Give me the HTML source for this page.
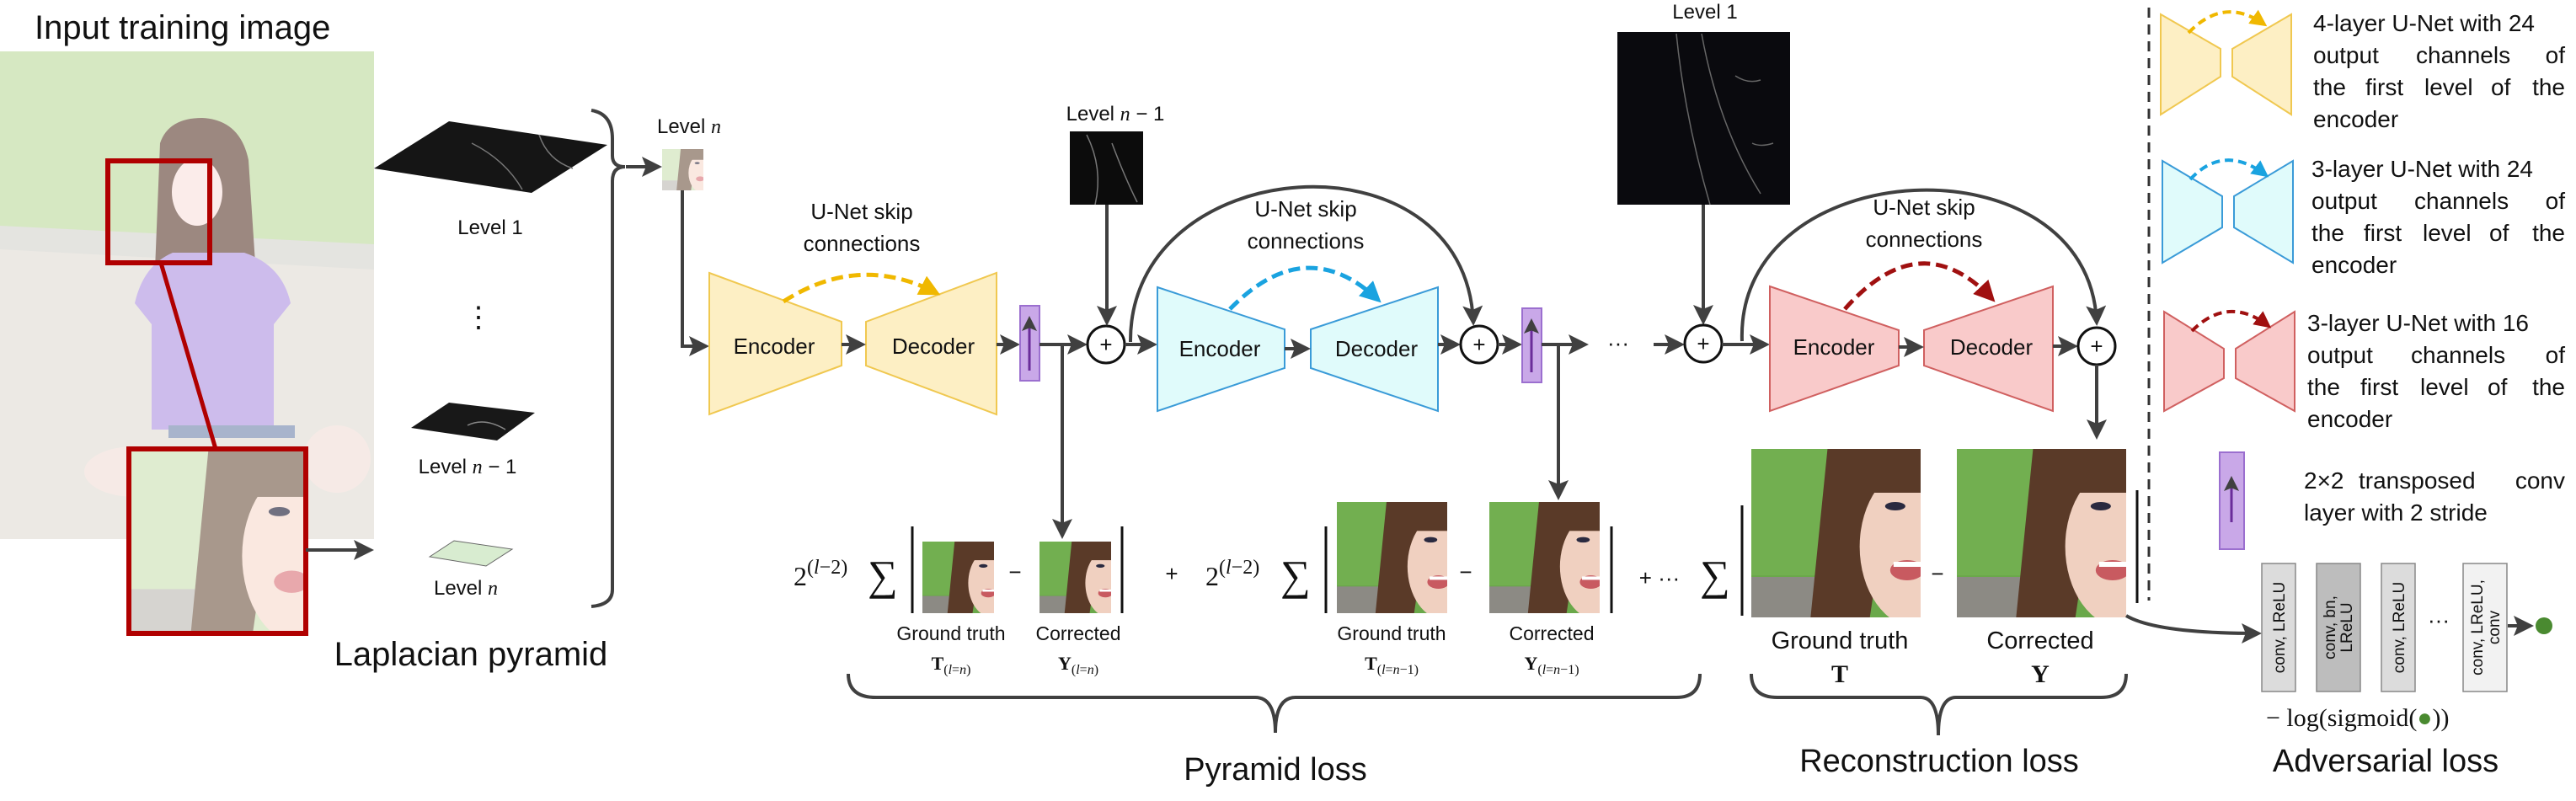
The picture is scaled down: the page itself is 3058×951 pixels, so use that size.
<!DOCTYPE html>
<html><head><meta charset="utf-8"><style>
html,body{margin:0;padding:0;background:#fff;}
svg{display:block;}
text{font-family:"Liberation Sans",sans-serif;fill:#111;}
.s{font-family:"Liberation Serif",serif;}
</style></head><body>
<svg width="3058" height="951" viewBox="0 0 3058 951" xmlns="http://www.w3.org/2000/svg">
<defs>
<marker id="ar" markerWidth="6" markerHeight="6" refX="5" refY="3" orient="auto" markerUnits="strokeWidth"><path d="M0,0 L6,3 L0,6 L1.2,3 z" fill="#404040"/></marker>
<marker id="ay" markerWidth="5" markerHeight="5" refX="4" refY="2.5" orient="auto" markerUnits="strokeWidth"><path d="M0,0 L5,2.5 L0,5 z" fill="#f0b800"/></marker>
<marker id="ab" markerWidth="5" markerHeight="5" refX="4" refY="2.5" orient="auto" markerUnits="strokeWidth"><path d="M0,0 L5,2.5 L0,5 z" fill="#1aa3e0"/></marker>
<marker id="ad" markerWidth="5" markerHeight="5" refX="4" refY="2.5" orient="auto" markerUnits="strokeWidth"><path d="M0,0 L5,2.5 L0,5 z" fill="#a01010"/></marker>
<symbol id="face" viewBox="0 0 100 100" preserveAspectRatio="none">
<rect width="100" height="100" fill="#6aa84a"/>
<rect x="0" y="0" width="60" height="75" fill="#78b455" opacity="0.6"/>
<rect x="0" y="76" width="50" height="24" fill="#8c8a84"/>
<polygon points="45,0 85,0 70,100 35,100" fill="#5a3a28"/>
<ellipse cx="98" cy="58" rx="34" ry="48" fill="#f0d0c0"/>
<rect x="62" y="0" width="38" height="26" fill="#5a3a28"/>
<ellipse cx="85" cy="34" rx="6" ry="2.5" fill="#2a2a40"/>
<ellipse cx="92" cy="72" rx="10" ry="6" fill="#c85a60"/>
<rect x="84" y="67" width="16" height="3" fill="#fff"/>
</symbol>
<symbol id="facep" viewBox="0 0 100 100" preserveAspectRatio="none">
<rect width="100" height="100" fill="#dfecd0"/>
<rect x="0" y="76" width="50" height="24" fill="#d6d4d0"/>
<polygon points="45,0 85,0 70,100 35,100" fill="#a8988c"/>
<ellipse cx="98" cy="58" rx="34" ry="48" fill="#fae8e0"/>
<rect x="62" y="0" width="38" height="26" fill="#a8988c"/>
<ellipse cx="85" cy="34" rx="6" ry="2.5" fill="#707080"/>
<ellipse cx="92" cy="72" rx="10" ry="6" fill="#e8a8ac"/>
</symbol>
</defs>

<!-- Input image -->
<text x="41" y="46" font-size="40">Input training image</text>
<rect x="0" y="61" width="444" height="579" fill="#ece9e4"/>
<polygon points="0,61 444,61 444,300 0,275" fill="#d6e8c2"/>
<polygon points="0,268 444,290 444,320 0,296" fill="#e4e4e0"/>
<path d="M190,170 Q200,140 240,140 Q285,142 295,190 L310,420 L180,420 Z" fill="#9c8880"/>
<ellipse cx="234" cy="228" rx="30" ry="40" fill="#fbecea"/>
<path d="M160,360 Q170,315 205,300 L290,300 Q335,315 345,360 L325,385 L325,510 L180,510 L180,385 Z" fill="#cdbcec"/>
<ellipse cx="160" cy="560" rx="60" ry="30" fill="#f6eae6"/>
<ellipse cx="400" cy="545" rx="40" ry="40" fill="#f6eae6"/>
<rect x="200" y="505" width="150" height="15" fill="#a8b4cc"/>
<rect x="128" y="191" width="121" height="121" fill="none" stroke="#b00000" stroke-width="6"/>
<line x1="191" y1="312" x2="256" y2="533" stroke="#b00000" stroke-width="5"/>
<use href="#facep" x="153" y="533" width="210" height="219"/>
<rect x="153" y="533" width="210" height="219" fill="none" stroke="#b00000" stroke-width="6"/>
<line x1="363" y1="653" x2="440" y2="653" stroke="#404040" stroke-width="4" marker-end="url(#ar)"/>

<!-- Laplacian pyramid -->
<polygon points="444,200 533,144 721,172 631,229" fill="#151515"/>
<path d="M560,170 Q600,190 620,225 M640,160 Q650,190 680,200" stroke="#777" stroke-width="1.5" fill="none"/>
<text x="582" y="278" font-size="24" text-anchor="middle">Level 1</text>
<text x="568" y="388" font-size="34" text-anchor="middle">⋮</text>
<polygon points="488,508 533,478 635,490 590,523" fill="#181818"/>
<path d="M555,505 Q575,495 600,510" stroke="#888" stroke-width="1.5" fill="none"/>
<text x="555" y="562" font-size="24" text-anchor="middle">Level <tspan class="s" font-style="italic">n</tspan> − 1</text>
<polygon points="510,661 539,642 608,652 577,672" fill="#d8ecd0" stroke="#666" stroke-width="1"/>
<text x="553" y="706" font-size="24" text-anchor="middle">Level <tspan class="s" font-style="italic">n</tspan></text>
<path d="M702,131 Q727,135 727,165 L727,185 Q727,198 742,198 Q727,198 727,215 L727,700 Q727,718 702,720" fill="none" stroke="#404040" stroke-width="4"/>
<line x1="743" y1="198" x2="782" y2="198" stroke="#404040" stroke-width="4" marker-end="url(#ar)"/>
<text x="559" y="790" font-size="40" text-anchor="middle">Laplacian pyramid</text>

<!-- Level n input -->
<text x="818" y="158" font-size="24" text-anchor="middle">Level <tspan class="s" font-style="italic">n</tspan></text>
<use href="#facep" x="786" y="177" width="49" height="49"/>
<polyline points="810,226 810,411 838,411" fill="none" stroke="#404040" stroke-width="4" marker-end="url(#ar)"/>

<!-- Block 1 yellow -->
<polygon points="842,324 999,382 999,434 842,492" fill="#fdefc4" stroke="#f0c850" stroke-width="2"/>
<polygon points="1028,382 1183,324 1183,492 1028,434" fill="#fdefc4" stroke="#f0c850" stroke-width="2"/>
<text x="919" y="420" font-size="26" text-anchor="middle">Encoder</text>
<text x="1108" y="420" font-size="26" text-anchor="middle">Decoder</text>
<path d="M930,358 Q1020,300 1112,348" fill="none" stroke="#f0b800" stroke-width="5" stroke-dasharray="14,7" marker-end="url(#ay)"/>
<text x="1023" y="260" font-size="26" text-anchor="middle">U-Net skip</text>
<text x="1023" y="298" font-size="26" text-anchor="middle">connections</text>
<line x1="999" y1="409" x2="1024" y2="409" stroke="#404040" stroke-width="4" marker-end="url(#ar)"/>
<line x1="1183" y1="409" x2="1207" y2="409" stroke="#404040" stroke-width="4" marker-end="url(#ar)"/>
<rect x="1211" y="363" width="23" height="89" fill="#c9a8e8" stroke="#9b6fcf" stroke-width="2"/>
<line x1="1222" y1="440" x2="1222" y2="378" stroke="#6a2d9a" stroke-width="3" marker-end="url(#ar)"/>
<line x1="1234" y1="409" x2="1287" y2="409" stroke="#404040" stroke-width="4" marker-end="url(#ar)"/>
<line x1="1261" y1="409" x2="1261" y2="636" stroke="#404040" stroke-width="4" marker-end="url(#ar)"/>
<circle cx="1313" cy="409" r="22" fill="#fff" stroke="#111" stroke-width="3"/>
<text x="1313" y="418" font-size="26" text-anchor="middle">+</text>

<text x="1324" y="143" font-size="24" text-anchor="middle">Level <tspan class="s" font-style="italic">n</tspan> − 1</text>
<rect x="1270" y="156" width="87" height="87" fill="#0c0c0c"/>
<path d="M1290,160 Q1310,200 1300,243 M1320,170 Q1335,210 1350,240" stroke="#777" stroke-width="1.5" fill="none"/>
<line x1="1314" y1="243" x2="1314" y2="383" stroke="#404040" stroke-width="4" marker-end="url(#ar)"/>

<!-- Block 2 cyan -->
<path d="M1342,406 C1340,180 1740,150 1749,383" fill="none" stroke="#404040" stroke-width="4" marker-end="url(#ar)"/>
<line x1="1335" y1="409" x2="1370" y2="409" stroke="#404040" stroke-width="4" marker-end="url(#ar)"/>
<polygon points="1374,341 1525,391 1525,437 1374,488" fill="#e0fbfb" stroke="#3a9bd8" stroke-width="2"/>
<polygon points="1556,391 1707,341 1707,488 1556,437" fill="#e0fbfb" stroke="#3a9bd8" stroke-width="2"/>
<text x="1448" y="423" font-size="26" text-anchor="middle">Encoder</text>
<text x="1634" y="423" font-size="26" text-anchor="middle">Decoder</text>
<path d="M1460,367 Q1550,275 1636,356" fill="none" stroke="#1aa3e0" stroke-width="5" stroke-dasharray="14,7" marker-end="url(#ab)"/>
<text x="1550" y="257" font-size="26" text-anchor="middle">U-Net skip</text>
<text x="1550" y="295" font-size="26" text-anchor="middle">connections</text>
<line x1="1525" y1="414" x2="1552" y2="414" stroke="#404040" stroke-width="4" marker-end="url(#ar)"/>
<line x1="1707" y1="409" x2="1730" y2="409" stroke="#404040" stroke-width="4" marker-end="url(#ar)"/>
<circle cx="1756" cy="409" r="22" fill="#fff" stroke="#111" stroke-width="3"/>
<text x="1756" y="418" font-size="26" text-anchor="middle">+</text>
<line x1="1778" y1="409" x2="1803" y2="409" stroke="#404040" stroke-width="4" marker-end="url(#ar)"/>
<rect x="1807" y="366" width="23" height="88" fill="#c9a8e8" stroke="#9b6fcf" stroke-width="2"/>
<line x1="1818" y1="442" x2="1818" y2="381" stroke="#6a2d9a" stroke-width="3" marker-end="url(#ar)"/>
<line x1="1830" y1="409" x2="1882" y2="409" stroke="#404040" stroke-width="4" marker-end="url(#ar)"/>
<line x1="1850" y1="409" x2="1850" y2="590" stroke="#404040" stroke-width="4" marker-end="url(#ar)"/>
<text x="1921" y="416" font-size="26" text-anchor="middle">···</text>
<line x1="1963" y1="409" x2="1996" y2="409" stroke="#404040" stroke-width="4" marker-end="url(#ar)"/>

<!-- Block 3 red -->
<text x="2024" y="22" font-size="24" text-anchor="middle">Level 1</text>
<rect x="1920" y="38" width="205" height="205" fill="#0a0a0e"/>
<path d="M1990,40 Q2000,140 2030,243 M2020,40 Q2040,150 2090,230 M2060,90 Q2075,100 2090,95 M2080,170 Q2090,175 2105,170" stroke="#666" stroke-width="1.5" fill="none"/>
<line x1="2022" y1="243" x2="2022" y2="382" stroke="#404040" stroke-width="4" marker-end="url(#ar)"/>
<circle cx="2022" cy="408" r="22" fill="#fff" stroke="#111" stroke-width="3"/>
<text x="2022" y="417" font-size="26" text-anchor="middle">+</text>
<path d="M2068,405 C2060,180 2480,160 2489,383" fill="none" stroke="#404040" stroke-width="4" marker-end="url(#ar)"/>
<line x1="2044" y1="409" x2="2097" y2="409" stroke="#404040" stroke-width="4" marker-end="url(#ar)"/>
<polygon points="2101,340 2254,392 2254,434 2101,488" fill="#f9caca" stroke="#d06060" stroke-width="2"/>
<polygon points="2284,392 2437,340 2437,488 2284,434" fill="#f9caca" stroke="#d06060" stroke-width="2"/>
<text x="2177" y="421" font-size="26" text-anchor="middle">Encoder</text>
<text x="2364" y="421" font-size="26" text-anchor="middle">Decoder</text>
<path d="M2190,367 Q2280,265 2365,355" fill="none" stroke="#a01010" stroke-width="5" stroke-dasharray="14,7" marker-end="url(#ad)"/>
<text x="2284" y="255" font-size="26" text-anchor="middle">U-Net skip</text>
<text x="2284" y="293" font-size="26" text-anchor="middle">connections</text>
<line x1="2254" y1="412" x2="2280" y2="412" stroke="#404040" stroke-width="4" marker-end="url(#ar)"/>
<line x1="2437" y1="411" x2="2463" y2="411" stroke="#404040" stroke-width="4" marker-end="url(#ar)"/>
<circle cx="2489" cy="411" r="22" fill="#fff" stroke="#111" stroke-width="3"/>
<text x="2489" y="420" font-size="26" text-anchor="middle">+</text>
<line x1="2489" y1="433" x2="2489" y2="518" stroke="#404040" stroke-width="4" marker-end="url(#ar)"/>

<!-- Pyramid loss formula -->
<text x="942" y="695" font-size="32" class="s">2<tspan font-size="24" dy="-14">(</tspan><tspan font-size="24" font-style="italic">l</tspan><tspan font-size="24">−2)</tspan></text>
<text x="1030" y="700" font-size="50" class="s">∑</text>
<line x1="1083" y1="625" x2="1083" y2="728" stroke="#111" stroke-width="3"/>
<use href="#face" x="1095" y="643" width="85" height="85"/>
<text x="1205" y="688" font-size="26" text-anchor="middle">−</text>
<use href="#face" x="1234" y="643" width="85" height="85"/>
<line x1="1332" y1="625" x2="1332" y2="728" stroke="#111" stroke-width="3"/>
<text x="1129" y="760" font-size="23" text-anchor="middle">Ground truth</text>
<text x="1280" y="760" font-size="23" text-anchor="middle">Corrected</text>
<text x="1129" y="795" font-size="22" text-anchor="middle" class="s"><tspan font-weight="bold">T</tspan><tspan font-size="16" dy="5">(<tspan font-style="italic">l</tspan>=<tspan font-style="italic">n</tspan>)</tspan></text>
<text x="1280" y="795" font-size="22" text-anchor="middle" class="s"><tspan font-weight="bold">Y</tspan><tspan font-size="16" dy="5">(<tspan font-style="italic">l</tspan>=<tspan font-style="italic">n</tspan>)</tspan></text>
<text x="1391" y="690" font-size="26" text-anchor="middle">+</text>
<text x="1431" y="695" font-size="32" class="s">2<tspan font-size="24" dy="-14">(</tspan><tspan font-size="24" font-style="italic">l</tspan><tspan font-size="24">−2)</tspan></text>
<text x="1520" y="700" font-size="50" class="s">∑</text>
<line x1="1574" y1="625" x2="1574" y2="728" stroke="#111" stroke-width="3"/>
<use href="#face" x="1587" y="596" width="131" height="132"/>
<text x="1740" y="688" font-size="26" text-anchor="middle">−</text>
<use href="#face" x="1768" y="596" width="131" height="132"/>
<line x1="1913" y1="625" x2="1913" y2="728" stroke="#111" stroke-width="3"/>
<text x="1652" y="760" font-size="23" text-anchor="middle">Ground truth</text>
<text x="1842" y="760" font-size="23" text-anchor="middle">Corrected</text>
<text x="1652" y="795" font-size="22" text-anchor="middle" class="s"><tspan font-weight="bold">T</tspan><tspan font-size="16" dy="5">(<tspan font-style="italic">l</tspan>=<tspan font-style="italic">n</tspan>−1)</tspan></text>
<text x="1842" y="795" font-size="22" text-anchor="middle" class="s"><tspan font-weight="bold">Y</tspan><tspan font-size="16" dy="5">(<tspan font-style="italic">l</tspan>=<tspan font-style="italic">n</tspan>−1)</tspan></text>
<text x="1970" y="695" font-size="26" text-anchor="middle">+ ···</text>
<path d="M1007,800 Q1007,828 1040,828 L1490,828 Q1514,828 1514,870 Q1514,828 1538,828 L1990,828 Q2018,828 2018,800" fill="none" stroke="#404040" stroke-width="4"/>
<text x="1514" y="926" font-size="38" text-anchor="middle">Pyramid loss</text>

<!-- Reconstruction -->
<text x="2018" y="700" font-size="50" class="s">∑</text>
<line x1="2068" y1="600" x2="2068" y2="731" stroke="#111" stroke-width="3"/>
<use href="#face" x="2079" y="533" width="201" height="200"/>
<text x="2300" y="690" font-size="26" text-anchor="middle">−</text>
<use href="#face" x="2323" y="533" width="201" height="200"/>
<line x1="2537" y1="582" x2="2537" y2="716" stroke="#111" stroke-width="3"/>
<text x="2184" y="770" font-size="29" text-anchor="middle">Ground truth</text>
<text x="2422" y="770" font-size="29" text-anchor="middle">Corrected</text>
<text x="2184" y="810" font-size="30" text-anchor="middle" class="s" font-weight="bold">T</text>
<text x="2422" y="810" font-size="30" text-anchor="middle" class="s" font-weight="bold">Y</text>
<path d="M2079,800 Q2079,828 2110,828 L2280,828 Q2301,828 2301,873 Q2301,828 2322,828 L2494,828 Q2524,828 2524,800" fill="none" stroke="#404040" stroke-width="4"/>
<text x="2302" y="916" font-size="38" text-anchor="middle">Reconstruction loss</text>

<!-- Legend -->
<line x1="2551" y1="9" x2="2551" y2="713" stroke="#333" stroke-width="3" stroke-dasharray="12,8"/>
<polygon points="2565,17 2636,58 2636,91 2565,136" fill="#fdefc4" stroke="#f0c850" stroke-width="2"/>
<polygon points="2650,58 2720,17 2720,136 2650,91" fill="#fdefc4" stroke="#f0c850" stroke-width="2"/>
<path d="M2598,39 Q2640,-5 2688,29" fill="none" stroke="#f0b800" stroke-width="4" stroke-dasharray="10,6" marker-end="url(#ay)"/>
<g font-size="28">
<text x="2746" y="37">4-layer U-Net with 24</text>
<text y="75"><tspan x="2746">output</tspan><tspan x="2868">channels</tspan><tspan x="3045" text-anchor="end">of</tspan></text>
<text y="113"><tspan x="2746">the</tspan><tspan x="2808">first</tspan><tspan x="2878">level</tspan><tspan x="2957">of</tspan><tspan x="3045" text-anchor="end">the</tspan></text>
<text x="2746" y="151">encoder</text>
</g>
<polygon points="2567,191 2638,233 2638,270 2567,312" fill="#e0fbfb" stroke="#3a9bd8" stroke-width="2"/>
<polygon points="2652,233 2722,191 2722,312 2652,270" fill="#e0fbfb" stroke="#3a9bd8" stroke-width="2"/>
<path d="M2600,213 Q2640,170 2690,208" fill="none" stroke="#1aa3e0" stroke-width="4" stroke-dasharray="10,6" marker-end="url(#ab)"/>
<g font-size="28">
<text x="2744" y="210">3-layer U-Net with 24</text>
<text y="248"><tspan x="2744">output</tspan><tspan x="2866">channels</tspan><tspan x="3045" text-anchor="end">of</tspan></text>
<text y="286"><tspan x="2744">the</tspan><tspan x="2806">first</tspan><tspan x="2876">level</tspan><tspan x="2955">of</tspan><tspan x="3045" text-anchor="end">the</tspan></text>
<text x="2744" y="324">encoder</text>
</g>
<polygon points="2569,370 2640,414 2640,449 2569,488" fill="#f9caca" stroke="#d06060" stroke-width="2"/>
<polygon points="2654,414 2724,370 2724,488 2654,449" fill="#f9caca" stroke="#d06060" stroke-width="2"/>
<path d="M2602,393 Q2645,350 2693,387" fill="none" stroke="#a01010" stroke-width="4" stroke-dasharray="10,6" marker-end="url(#ad)"/>
<g font-size="28">
<text x="2739" y="393">3-layer U-Net with 16</text>
<text y="431"><tspan x="2739">output</tspan><tspan x="2862">channels</tspan><tspan x="3045" text-anchor="end">of</tspan></text>
<text y="469"><tspan x="2739">the</tspan><tspan x="2802">first</tspan><tspan x="2873">level</tspan><tspan x="2953">of</tspan><tspan x="3045" text-anchor="end">the</tspan></text>
<text x="2739" y="507">encoder</text>
</g>
<rect x="2635" y="537" width="29" height="115" fill="#c9a8e8" stroke="#9b6fcf" stroke-width="2"/>
<line x1="2649" y1="620" x2="2649" y2="568" stroke="#6a2d9a" stroke-width="3" marker-end="url(#ar)"/>
<text y="580" font-size="28"><tspan x="2735">2×2</tspan><tspan x="2800">transposed</tspan><tspan x="3045" text-anchor="end">conv</tspan></text>
<text x="2735" y="618" font-size="28">layer with 2 stride</text>

<!-- Adversarial -->
<path d="M2524,731 Q2560,752 2681,752" fill="none" stroke="#404040" stroke-width="4" marker-end="url(#ar)"/>
<rect x="2685" y="669" width="40" height="152" fill="#dcdcdc" stroke="#888" stroke-width="1.5"/>
<rect x="2750" y="669" width="52" height="152" fill="#bdbdbd" stroke="#888" stroke-width="1.5"/>
<rect x="2827" y="669" width="40" height="152" fill="#dcdcdc" stroke="#888" stroke-width="1.5"/>
<rect x="2924" y="669" width="52" height="152" fill="#f2f2f2" stroke="#888" stroke-width="1.5"/>
<g font-size="19">
<text transform="translate(2712,745) rotate(-90)" text-anchor="middle">conv, LReLU</text>
<text transform="translate(2772,745) rotate(-90)" text-anchor="middle">conv, bn,</text>
<text transform="translate(2792,745) rotate(-90)" text-anchor="middle">LReLU</text>
<text transform="translate(2854,745) rotate(-90)" text-anchor="middle">conv, LReLU</text>
<text transform="translate(2947,745) rotate(-90)" text-anchor="middle">conv, LReLU,</text>
<text transform="translate(2967,745) rotate(-90)" text-anchor="middle">conv</text>
</g>
<text x="2895" y="745" font-size="26" text-anchor="middle">···</text>
<line x1="2977" y1="743" x2="3004" y2="743" stroke="#404040" stroke-width="4" marker-end="url(#ar)"/>
<circle cx="3020" cy="743" r="10" fill="#4a8a30"/>
<text x="2690" y="862" font-size="30" class="s">− log(sigmoid(<tspan fill="#4a8a30">●</tspan>))</text>
<text x="2832" y="916" font-size="38" text-anchor="middle">Adversarial loss</text>
</svg>
</body></html>
